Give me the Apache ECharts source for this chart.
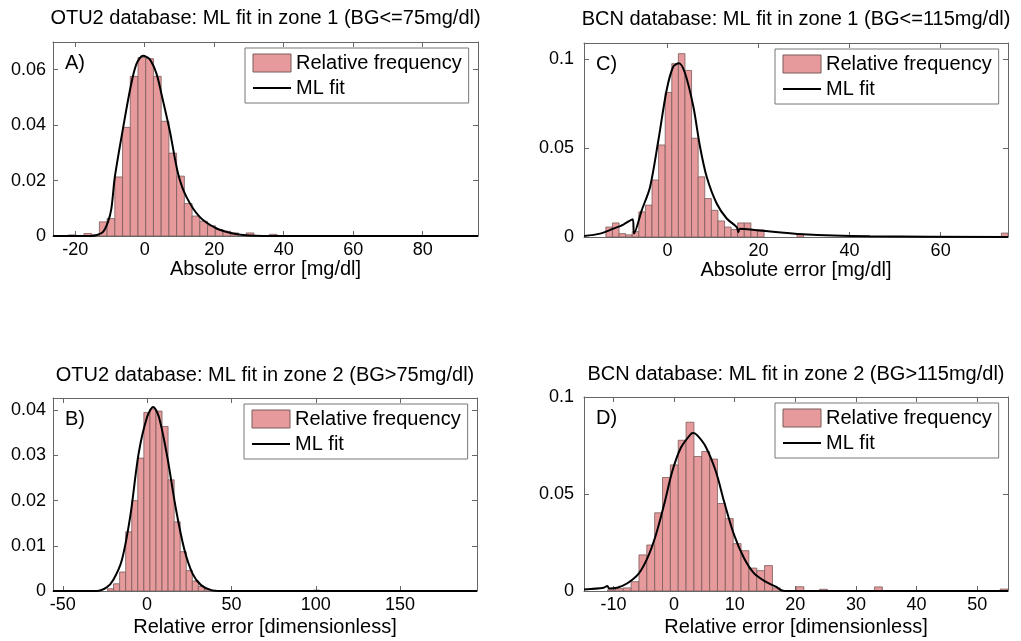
<!DOCTYPE html>
<html>
<head>
<meta charset="utf-8">
<title>ML fit per zone</title>
<script src="https://cdn.jsdelivr.net/npm/echarts@6/dist/echarts.min.js"></script>
<style>
  html, body { margin: 0; padding: 0; background: #fff; }
  #chart { width: 1021px; height: 641px; }
</style>
</head>
<body>
<div id="chart"></div>
<script>
// ---- A) OTU2, zone 1 (absolute error) ----
const rangeA = [-26.4, 95.9];
const freqA = [
  0, 0, 0.0004, 0, 0.0009, 0.0004, 0.0051, 0.0063, 0.0213, 0.0392,
  0.0576, 0.0644, 0.0640, 0.0576, 0.0414, 0.0299, 0.0216, 0.0117, 0.0072, 0.0053,
  0.0037, 0.0023, 0.0017, 0.0011, 0, 0.0011, 0, 0, 0.0006, 0,
  0, 0, 0, 0, 0, 0, 0, 0, 0, 0,
  0, 0, 0, 0, 0, 0, 0, 0, 0, 0,
  0, 0, 0, 0, 0
];
const fitXA = [-26.4, -16, -14, -12, -10.6, -9.6, -8.6, -6.2, -4.1, -2.4, -0.5, 1.4, 3.4, 4.8, 7.2, 9.6, 12, 15.8, 20.7, 25.4, 30, 40, 95.9];
const fitYA = [0, 0, 0.0003, 0.0015, 0.005, 0.0099, 0.0213, 0.0392, 0.0536, 0.062, 0.065, 0.0638, 0.0585, 0.0513, 0.038, 0.0225, 0.0141, 0.0069, 0.0027, 0.0009, 0.0002, 0, 0];
const xTicksA = [-20, 0, 20, 40, 60, 80];
const yTicksA = [0, 0.02, 0.04, 0.06];

// ---- C) BCN, zone 1 (absolute error) ----
const rangeC = [-17.89, 74.8];
const freqC = [
  0, 0, 0, 0.0056, 0.0079, 0.0019, 0.0012, 0.0030, 0.0141, 0.0179,
  0.0320, 0.0517, 0.0812, 0.0974, 0.1030, 0.0936, 0.0555, 0.0338, 0.0216, 0.0150,
  0.0090, 0.0056, 0.0042, 0.0079, 0.0079, 0.0040, 0.0040, 0, 0, 0,
  0, 0, 0.0015, 0, 0, 0, 0, 0, 0, 0,
  0, 0, 0, 0, 0, 0, 0, 0, 0, 0,
  0, 0, 0, 0, 0, 0, 0, 0, 0, 0,
  0, 0, 0, 0.0022
];
const fitXC = [-18.35, -14.8, -11.9, -9.7, -7.65, -7.36, -5.67, -3.85, -2.0, -0.18, 1.27, 2.5, 3.85, 5.67, 7.14, 8.6, 10.8, 13.0, 15.2, 15.56, 15.9, 19.6, 29.8, 44.5, 74.8];
const fitYC = [0.0006, 0.0019, 0.0047, 0.007, 0.0100, 0.0020, 0.015, 0.028, 0.0545, 0.0827, 0.0958, 0.0976, 0.092, 0.0733, 0.0507, 0.0338, 0.0188, 0.0104, 0.0056, 0.0028, 0.0047, 0.0038, 0.0015, 0.0004, 0];
const xTicksC = [0, 20, 40, 60];
const yTicksC = [0, 0.05, 0.1];

// ---- B) OTU2, zone 2 (relative error) ----
const rangeB = [-55.8, 195.6];
const freqB = [
  0, 0, 0, 0, 0, 0, 0, 0, 0, 0.0005,
  0.0016, 0.0042, 0.0131, 0.0200, 0.0294, 0.0395, 0.0403, 0.0398, 0.0364, 0.0246,
  0.0153, 0.0087, 0.0045, 0.0022, 0.0010, 0.0004, 0.0002, 0, 0, 0,
  0, 0, 0, 0, 0, 0, 0, 0, 0, 0,
  0, 0, 0, 0.0002, 0, 0, 0, 0, 0, 0,
  0, 0, 0, 0, 0, 0, 0, 0, 0, 0,
  0, 0, 0, 0, 0, 0, 0, 0, 0, 0
];
const fitXB = [-55.8, -30, -24, -20, -15, -10, -5, 0, 3.6, 7, 12, 17, 22, 27, 32, 38, 45, 195.6];
const fitYB = [0, 0, 0.0008, 0.0025, 0.0068, 0.0165, 0.0305, 0.0385, 0.0407, 0.0385, 0.0296, 0.0183, 0.0093, 0.0038, 0.0013, 0.0002, 0, 0];
const xTicksB = [-50, 0, 50, 100, 150];
const yTicksB = [0, 0.01, 0.02, 0.03, 0.04];

// ---- D) BCN, zone 2 (relative error) ----
const rangeD = [-14.85, 55.07];
const freqD = [
  0, 0, 0, 0.0006, 0.0012, 0.0016, 0.0048, 0.0186, 0.0237, 0.0403,
  0.0585, 0.0650, 0.0777, 0.0870, 0.0693, 0.0719, 0.0680, 0.0451, 0.0373, 0.0244,
  0.0208, 0.0118, 0.0105, 0.0131, 0.0016, 0, 0, 0.0022, 0, 0,
  0.0009, 0, 0, 0, 0, 0, 0, 0.0021, 0, 0,
  0, 0, 0, 0, 0, 0, 0, 0, 0, 0,
  0, 0, 0, 0.0010
];
const fitXD = [-14.85, -11.6, -11.0, -10.7, -9.4, -7.7, -5.8, -4.4, -3.0, -1.65, -0.3, 1.1, 2.76, 3.2, 3.84, 5.2, 6.9, 8.25, 9.9, 11.55, 13.2, 15.1, 16.8, 17.6, 18.3, 55.07];
const fitYD = [0.0008, 0.0017, 0.0026, 0.0013, 0.0017, 0.004, 0.0091, 0.0169, 0.0289, 0.0444, 0.0616, 0.0737, 0.0809, 0.0814, 0.0802, 0.0745, 0.0616, 0.0461, 0.0289, 0.0169, 0.0091, 0.0048, 0.0022, 0.0005, 0, 0];
const xTicksD = [-10, 0, 10, 20, 30, 40, 50];
const yTicksD = [0, 0.05, 0.1];

const FONT = "'Liberation Sans', Arial, sans-serif";
const BAR_FILL = '#e79a9b';
const BAR_EDGE = '#7a5c5c';
const AXIS_COLOR = '#666';

// panel layout (pixels)
const panels = [
  { grid: { left: 53, top: 42, width: 425, height: 194 }, label: 'A)', range: rangeA, ymax: 0.07,
    freq: freqA, fitX: fitXA, fitY: fitYA, xTicks: xTicksA, yTicks: yTicksA, labelMargin: 7,
    title: 'OTU2 database: ML fit in zone 1 (BG<=75mg/dl)', xName: 'Absolute error [mg/dl]', nameGap: 22, titleGap: 14 },
  { grid: { left: 584, top: 43, width: 424, height: 194 }, label: 'C)', range: rangeC, ymax: 0.109, axisMin: -18.35,
    freq: freqC, fitX: fitXC, fitY: fitYC, xTicks: xTicksC, yTicks: yTicksC, labelMargin: 10,
    title: 'BCN database: ML fit in zone 1 (BG<=115mg/dl)', xName: 'Absolute error [mg/dl]', nameGap: 22, titleGap: 14 },
  { grid: { left: 53, top: 398, width: 424, height: 193 }, label: 'B)', range: rangeB, ymax: 0.0427,
    freq: freqB, fitX: fitXB, fitY: fitYB, xTicks: xTicksB, yTicks: yTicksB, labelMargin: 7,
    title: 'OTU2 database: ML fit in zone 2 (BG>75mg/dl)', xName: 'Relative error [dimensionless]', nameGap: 26, titleGap: 13 },
  { grid: { left: 584, top: 397, width: 424, height: 194 }, label: 'D)', range: rangeD, ymax: 0.1,
    freq: freqD, fitX: fitXD, fitY: fitYD, xTicks: xTicksD, yTicks: yTicksD, labelMargin: 10,
    title: 'BCN database: ML fit in zone 2 (BG>115mg/dl)', xName: 'Relative error [dimensionless]', nameGap: 26, titleGap: 13 }
];

// histogram bins -> [left edge, right edge, relative frequency]
function binData(range, freq) {
  const w = (range[1] - range[0]) / freq.length;
  const out = [];
  freq.forEach(function (v, i) {
    if (v > 0) out.push([range[0] + i * w, range[0] + (i + 1) * w, v]);
  });
  return out;
}

function renderBin(params, api) {
  const p0 = api.coord([api.value(0), 0]);
  const p1 = api.coord([api.value(1), api.value(2)]);
  return {
    type: 'rect',
    shape: { x: p0[0], y: p1[1], width: p1[0] - p0[0], height: p0[1] - p1[1] },
    style: { fill: BAR_FILL, stroke: BAR_EDGE, lineWidth: 0.8 }
  };
}

const grids = [], xAxes = [], yAxes = [], series = [], legends = [], titles = [];

panels.forEach(function (p, i) {
  const xmin = p.axisMin !== undefined ? p.axisMin : p.range[0];
  const xmax = p.range[1];
  grids.push(Object.assign({ show: false, containLabel: false }, p.grid));

  const line = { show: true, onZero: false, lineStyle: { color: AXIS_COLOR, width: 1 } };
  const tick = function (vals) {
    return { show: true, inside: true, length: 5, customValues: vals, lineStyle: { color: AXIS_COLOR } };
  };

  // bottom x axis (ticks + x label), top x axis (box edge + title)
  xAxes.push({
    gridIndex: i, type: 'value', position: 'bottom', min: xmin, max: xmax,
    name: p.xName, nameLocation: 'middle', nameGap: p.nameGap,
    nameTextStyle: { fontSize: 20, color: '#000', fontFamily: FONT },
    axisLine: line, axisTick: tick(p.xTicks),
    axisLabel: { customValues: p.xTicks, fontSize: 18, color: '#000', fontFamily: FONT, margin: 5 },
    splitLine: { show: false }
  });
  xAxes.push({
    gridIndex: i, type: 'value', position: 'top', min: xmin, max: xmax,
    name: p.title, nameLocation: 'middle', nameGap: p.titleGap,
    nameTextStyle: { fontSize: 20, color: '#000', fontFamily: FONT },
    axisLine: line, axisTick: tick(p.xTicks), axisLabel: { show: false },
    splitLine: { show: false }
  });
  // left y axis (labels), right y axis (box edge)
  yAxes.push({
    gridIndex: i, type: 'value', position: 'left', min: 0, max: p.ymax,
    axisLine: line, axisTick: tick(p.yTicks),
    axisLabel: { customValues: p.yTicks, fontSize: 18, color: '#000', fontFamily: FONT, margin: p.labelMargin },
    splitLine: { show: false }
  });
  yAxes.push({
    gridIndex: i, type: 'value', position: 'right', min: 0, max: p.ymax,
    axisLine: line, axisTick: tick(p.yTicks), axisLabel: { show: false },
    splitLine: { show: false }
  });

  series.push({
    name: 'Relative frequency', type: 'custom',
    xAxisIndex: 2 * i, yAxisIndex: 2 * i,
    renderItem: renderBin, clip: true,
    itemStyle: { color: BAR_FILL, borderColor: BAR_EDGE, borderWidth: 1 },
    encode: { x: [0, 1], y: 2 },
    data: binData(p.range, p.freq)
  });
  series.push({
    name: 'ML fit', type: 'line',
    xAxisIndex: 2 * i, yAxisIndex: 2 * i,
    symbol: 'none', smooth: 0.3, clip: true, z: 3,
    lineStyle: { color: '#000', width: 2 },
    itemStyle: { color: '#000' },
    data: p.fitX.map(function (x, k) { return [x, p.fitY[k]]; })
  });

  // legend sits in the upper right of each panel
  legends.push({
    orient: 'vertical', selectedMode: false,
    left: p.grid.left + p.grid.width - 233, top: p.grid.top + 6,
    padding: [5, 7, 5, 7], itemGap: 5, itemWidth: 38, itemHeight: 18,
    backgroundColor: '#fff', borderColor: '#777', borderWidth: 1,
    textStyle: { fontSize: 20, color: '#000', fontFamily: FONT },
    data: [
      { name: 'Relative frequency', icon: 'rect', itemStyle: { color: BAR_FILL, borderColor: BAR_EDGE, borderWidth: 1 } },
      // plain line sample, hide the marker the line legend adds
      { name: 'ML fit', itemStyle: { color: 'rgba(0,0,0,0)', borderColor: 'rgba(0,0,0,0)', borderWidth: 0 } }
    ]
  });

  titles.push({
    text: p.label, left: p.grid.left + 12, top: p.grid.top + 11, padding: 0,
    textStyle: { fontSize: 20, fontWeight: 'normal', color: '#000', fontFamily: FONT }
  });
});

const chart = echarts.init(document.getElementById('chart'), null, { renderer: 'canvas' });
chart.setOption({
  animation: false,
  backgroundColor: '#fff',
  title: titles,
  legend: legends,
  grid: grids,
  xAxis: xAxes,
  yAxis: yAxes,
  series: series
});
</script>
</body>
</html>
